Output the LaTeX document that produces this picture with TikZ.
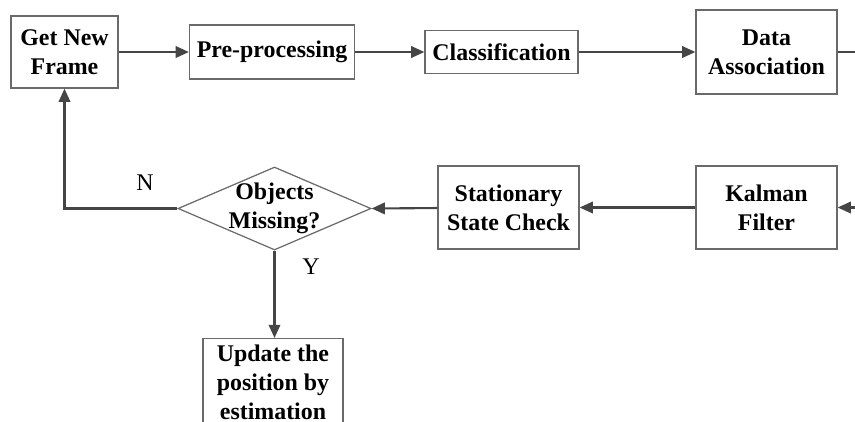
\documentclass[tikz,border=0pt]{standalone}
\usepackage{fontspec}
\setmainfont{Liberation Serif}
\usetikzlibrary{positioning,arrows.meta,shapes.geometric}
\definecolor{edge600}{HTML}{454545}
\definecolor{frame500}{HTML}{6A6A6A}
\tikzset{
  blk/.style  ={draw=frame500, line width=0.7pt, fill=white, align=center,
                inner sep=2pt, font=\fontsize{13.6}{16.5}\selectfont\bfseries},
  dec/.style  ={diamond, draw=frame500, line width=0.7pt, fill=white,
                align=center, aspect=2.33, inner sep=-2pt,
                minimum width=3.86cm, minimum height=1.66cm,
                font=\fontsize{13.6}{16.5}\selectfont\bfseries},
  ar/.style   ={-{Triangle[length=7.5pt,width=6.5pt]}, draw=edge600,
                line width=1.2pt},
  ln/.style   ={draw=edge600, line width=1.2pt},
  lbl/.style  ={font=\fontsize{13.6}{16.5}\selectfont, inner sep=0pt}
}
\begin{document}
\begin{tikzpicture}
\path[use as bounding box, clip] (0,0) rectangle (17.1,-8.42);

% top row
\node[blk, minimum width=2.14cm, minimum height=1.44cm] (frame) at (1.29,-1.04)
  {Get New\\Frame};
\node[blk, minimum width=3.30cm, minimum height=1.08cm] (prep) at (5.44,-1.04)
  {Pre-processing};
\node[blk, minimum width=3.06cm, minimum height=0.86cm] (cls) at (10.03,-1.04)
  {Classification};
\node[blk, minimum width=2.82cm, minimum height=1.68cm] (assoc) at (15.33,-1.04)
  {Data\\Association};

% bottom row
\node[blk, minimum width=2.82cm, minimum height=1.66cm] (kalman) at (15.33,-4.15)
  {Kalman\\Filter};
\node[blk, minimum width=2.82cm, minimum height=1.66cm] (check) at (10.17,-4.15)
  {Stationary\\State Check};
\node[dec] (missing) at (5.49,-4.17) {Objects\\Missing?};
\node[blk, anchor=north, minimum width=2.80cm, minimum height=1.74cm] (update)
  at (5.46,-6.76) {Update the\\position by\\estimation};

% the loop leaves and re-enters past the right edge
\coordinate (outR) at (17.3,-1.04);
\coordinate (inR)  at (17.3,-4.15);

\draw[ar] (frame) -- (prep);
\draw[ar] (prep) -- (cls);
\draw[ar] (cls) -- (assoc);
\draw[ln] (assoc) -- (outR);
\draw[ar] (inR) -- (kalman);
\draw[ar] (kalman) -- (check);
\draw[ar] (check) -- (missing.east);
\draw[ar] (missing.west) -| (frame.south);
\draw[ar] (missing.south) -- (missing.south |- update.north);

\node[lbl] (no)  at (2.90,-3.66) {N};
\node[lbl] (yes) at (6.22,-5.34) {Y};
\end{tikzpicture}
\end{document}
